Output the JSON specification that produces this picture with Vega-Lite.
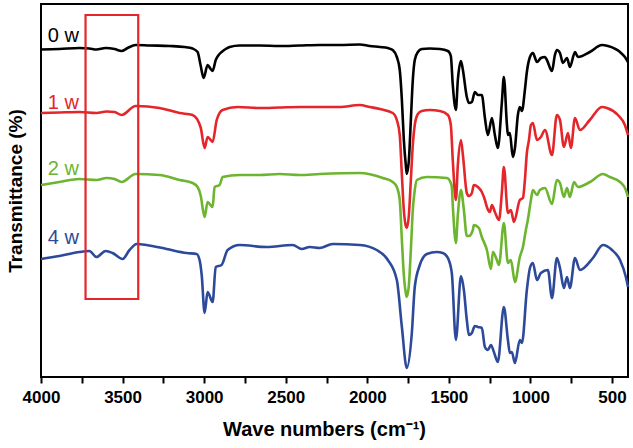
{
  "$schema": "https://vega.github.io/schema/vega-lite/v6.json",
  "width": 587,
  "height": 373,
  "autosize": "none",
  "padding": {"left": 41, "top": 4, "right": 5, "bottom": 71},
  "config": {
    "view": {"stroke": "#000000", "strokeWidth": 2},
    "font": "Liberation Sans"
  },
  "datasets": {
    "spectra": [
      {"s":"0 w","w":4000,"t":327.5},{"s":"0 w","w":3887,"t":328},{"s":"0 w","w":3764,"t":329},{"s":"0 w","w":3703,"t":328.5},{"s":"0 w","w":3660,"t":327.5},{"s":"0 w","w":3604,"t":329},{"s":"0 w","w":3549,"t":328},{"s":"0 w","w":3506,"t":326},{"s":"0 w","w":3469,"t":329},{"s":"0 w","w":3420,"t":332},{"s":"0 w","w":3334,"t":331.5},{"s":"0 w","w":3212,"t":331},{"s":"0 w","w":3120,"t":330},{"s":"0 w","w":3071,"t":328.5},{"s":"0 w","w":3040,"t":325},{"s":"0 w","w":3022,"t":312},{"s":"0 w","w":3003,"t":299},{"s":"0 w","w":2979,"t":312},{"s":"0 w","w":2960,"t":308},{"s":"0 w","w":2948,"t":306},{"s":"0 w","w":2929,"t":317},{"s":"0 w","w":2911,"t":322},{"s":"0 w","w":2893,"t":325},{"s":"0 w","w":2868,"t":328},{"s":"0 w","w":2844,"t":330},{"s":"0 w","w":2782,"t":331.5},{"s":"0 w","w":2660,"t":331.5},{"s":"0 w","w":2537,"t":331},{"s":"0 w","w":2414,"t":331.5},{"s":"0 w","w":2291,"t":332},{"s":"0 w","w":2169,"t":332},{"s":"0 w","w":2046,"t":332.5},{"s":"0 w","w":1985,"t":331},{"s":"0 w","w":1923,"t":330},{"s":"0 w","w":1874,"t":329},{"s":"0 w","w":1844,"t":327},{"s":"0 w","w":1819,"t":320},{"s":"0 w","w":1801,"t":307},{"s":"0 w","w":1788,"t":277},{"s":"0 w","w":1776,"t":237},{"s":"0 w","w":1764,"t":212},{"s":"0 w","w":1758,"t":203},{"s":"0 w","w":1745,"t":217},{"s":"0 w","w":1733,"t":257},{"s":"0 w","w":1721,"t":297},{"s":"0 w","w":1709,"t":317},{"s":"0 w","w":1690,"t":325},{"s":"0 w","w":1666,"t":328},{"s":"0 w","w":1617,"t":328.5},{"s":"0 w","w":1555,"t":328},{"s":"0 w","w":1506,"t":326},{"s":"0 w","w":1488,"t":321},{"s":"0 w","w":1476,"t":292},{"s":"0 w","w":1457,"t":267},{"s":"0 w","w":1445,"t":297},{"s":"0 w","w":1426,"t":316},{"s":"0 w","w":1414,"t":307},{"s":"0 w","w":1390,"t":280},{"s":"0 w","w":1377,"t":274},{"s":"0 w","w":1359,"t":275},{"s":"0 w","w":1341,"t":285},{"s":"0 w","w":1322,"t":282},{"s":"0 w","w":1298,"t":282},{"s":"0 w","w":1279,"t":259},{"s":"0 w","w":1261,"t":242},{"s":"0 w","w":1236,"t":259},{"s":"0 w","w":1218,"t":242},{"s":"0 w","w":1200,"t":229},{"s":"0 w","w":1175,"t":275},{"s":"0 w","w":1163,"t":300},{"s":"0 w","w":1144,"t":252},{"s":"0 w","w":1138,"t":242},{"s":"0 w","w":1126,"t":244},{"s":"0 w","w":1108,"t":220},{"s":"0 w","w":1095,"t":229},{"s":"0 w","w":1077,"t":262},{"s":"0 w","w":1065,"t":270},{"s":"0 w","w":1052,"t":266},{"s":"0 w","w":1034,"t":287},{"s":"0 w","w":1022,"t":305},{"s":"0 w","w":1003,"t":320},{"s":"0 w","w":985,"t":324},{"s":"0 w","w":960,"t":315},{"s":"0 w","w":936,"t":319},{"s":"0 w","w":911,"t":320},{"s":"0 w","w":899,"t":317},{"s":"0 w","w":868,"t":306},{"s":"0 w","w":850,"t":322},{"s":"0 w","w":838,"t":327},{"s":"0 w","w":819,"t":324},{"s":"0 w","w":801,"t":314},{"s":"0 w","w":776,"t":319},{"s":"0 w","w":758,"t":310},{"s":"0 w","w":727,"t":325},{"s":"0 w","w":709,"t":320},{"s":"0 w","w":636,"t":325},{"s":"0 w","w":562,"t":332},{"s":"0 w","w":525,"t":331},{"s":"0 w","w":451,"t":325},{"s":"0 w","w":421,"t":320},{"s":"0 w","w":402,"t":315},

      {"s":"1 w","w":4000,"t":264},{"s":"1 w","w":3887,"t":264.5},{"s":"1 w","w":3764,"t":265},{"s":"1 w","w":3660,"t":264},{"s":"1 w","w":3598,"t":265.5},{"s":"1 w","w":3549,"t":265},{"s":"1 w","w":3506,"t":262},{"s":"1 w","w":3420,"t":271},{"s":"1 w","w":3273,"t":269},{"s":"1 w","w":3150,"t":264},{"s":"1 w","w":3071,"t":262},{"s":"1 w","w":3022,"t":250},{"s":"1 w","w":2997,"t":229},{"s":"1 w","w":2979,"t":240},{"s":"1 w","w":2960,"t":237},{"s":"1 w","w":2948,"t":235},{"s":"1 w","w":2923,"t":257},{"s":"1 w","w":2887,"t":267},{"s":"1 w","w":2795,"t":270},{"s":"1 w","w":2660,"t":269},{"s":"1 w","w":2537,"t":269.5},{"s":"1 w","w":2414,"t":270},{"s":"1 w","w":2291,"t":270},{"s":"1 w","w":2169,"t":270},{"s":"1 w","w":2046,"t":272},{"s":"1 w","w":1985,"t":270},{"s":"1 w","w":1923,"t":268},{"s":"1 w","w":1844,"t":264},{"s":"1 w","w":1819,"t":257},{"s":"1 w","w":1801,"t":242},{"s":"1 w","w":1788,"t":202},{"s":"1 w","w":1776,"t":167},{"s":"1 w","w":1764,"t":151},{"s":"1 w","w":1758,"t":149},{"s":"1 w","w":1745,"t":162},{"s":"1 w","w":1733,"t":197},{"s":"1 w","w":1721,"t":232},{"s":"1 w","w":1709,"t":252},{"s":"1 w","w":1690,"t":263},{"s":"1 w","w":1666,"t":266},{"s":"1 w","w":1617,"t":267},{"s":"1 w","w":1555,"t":266},{"s":"1 w","w":1506,"t":262},{"s":"1 w","w":1488,"t":252},{"s":"1 w","w":1476,"t":217},{"s":"1 w","w":1457,"t":177},{"s":"1 w","w":1445,"t":212},{"s":"1 w","w":1426,"t":237},{"s":"1 w","w":1414,"t":222},{"s":"1 w","w":1390,"t":184},{"s":"1 w","w":1377,"t":181},{"s":"1 w","w":1359,"t":184},{"s":"1 w","w":1347,"t":192},{"s":"1 w","w":1322,"t":190},{"s":"1 w","w":1298,"t":185},{"s":"1 w","w":1279,"t":177},{"s":"1 w","w":1267,"t":170},{"s":"1 w","w":1249,"t":165},{"s":"1 w","w":1236,"t":172},{"s":"1 w","w":1218,"t":165},{"s":"1 w","w":1193,"t":157},{"s":"1 w","w":1175,"t":185},{"s":"1 w","w":1163,"t":210},{"s":"1 w","w":1138,"t":164},{"s":"1 w","w":1120,"t":167},{"s":"1 w","w":1101,"t":155},{"s":"1 w","w":1065,"t":177},{"s":"1 w","w":1046,"t":179},{"s":"1 w","w":1034,"t":197},{"s":"1 w","w":1022,"t":224},{"s":"1 w","w":1009,"t":237},{"s":"1 w","w":997,"t":252},{"s":"1 w","w":985,"t":254},{"s":"1 w","w":960,"t":237},{"s":"1 w","w":936,"t":240},{"s":"1 w","w":911,"t":247},{"s":"1 w","w":868,"t":222},{"s":"1 w","w":838,"t":262},{"s":"1 w","w":819,"t":257},{"s":"1 w","w":795,"t":230},{"s":"1 w","w":770,"t":244},{"s":"1 w","w":752,"t":229},{"s":"1 w","w":727,"t":259},{"s":"1 w","w":697,"t":247},{"s":"1 w","w":636,"t":257},{"s":"1 w","w":562,"t":270},{"s":"1 w","w":531,"t":269},{"s":"1 w","w":464,"t":262},{"s":"1 w","w":421,"t":252},{"s":"1 w","w":402,"t":242},

      {"s":"2 w","w":4000,"t":192},{"s":"2 w","w":3887,"t":195},{"s":"2 w","w":3764,"t":198},{"s":"2 w","w":3660,"t":197},{"s":"2 w","w":3598,"t":199},{"s":"2 w","w":3549,"t":198},{"s":"2 w","w":3506,"t":195},{"s":"2 w","w":3420,"t":203},{"s":"2 w","w":3273,"t":202},{"s":"2 w","w":3150,"t":197},{"s":"2 w","w":3071,"t":194},{"s":"2 w","w":3040,"t":190},{"s":"2 w","w":3022,"t":182},{"s":"2 w","w":2997,"t":160},{"s":"2 w","w":2979,"t":175},{"s":"2 w","w":2948,"t":170},{"s":"2 w","w":2936,"t":190},{"s":"2 w","w":2905,"t":192},{"s":"2 w","w":2887,"t":200},{"s":"2 w","w":2782,"t":202},{"s":"2 w","w":2660,"t":202},{"s":"2 w","w":2537,"t":203},{"s":"2 w","w":2414,"t":202},{"s":"2 w","w":2291,"t":203},{"s":"2 w","w":2046,"t":204},{"s":"2 w","w":1905,"t":199},{"s":"2 w","w":1844,"t":195},{"s":"2 w","w":1819,"t":190},{"s":"2 w","w":1801,"t":177},{"s":"2 w","w":1788,"t":137},{"s":"2 w","w":1776,"t":102},{"s":"2 w","w":1764,"t":84},{"s":"2 w","w":1758,"t":80},{"s":"2 w","w":1745,"t":92},{"s":"2 w","w":1733,"t":127},{"s":"2 w","w":1721,"t":167},{"s":"2 w","w":1709,"t":187},{"s":"2 w","w":1696,"t":197},{"s":"2 w","w":1635,"t":200},{"s":"2 w","w":1512,"t":199},{"s":"2 w","w":1488,"t":194},{"s":"2 w","w":1482,"t":190},{"s":"2 w","w":1476,"t":172},{"s":"2 w","w":1457,"t":134},{"s":"2 w","w":1445,"t":162},{"s":"2 w","w":1426,"t":187},{"s":"2 w","w":1408,"t":167},{"s":"2 w","w":1390,"t":141},{"s":"2 w","w":1377,"t":141},{"s":"2 w","w":1353,"t":147},{"s":"2 w","w":1347,"t":152},{"s":"2 w","w":1316,"t":149},{"s":"2 w","w":1298,"t":140},{"s":"2 w","w":1267,"t":127},{"s":"2 w","w":1242,"t":108},{"s":"2 w","w":1230,"t":125},{"s":"2 w","w":1206,"t":117},{"s":"2 w","w":1193,"t":112},{"s":"2 w","w":1163,"t":154},{"s":"2 w","w":1138,"t":114},{"s":"2 w","w":1120,"t":117},{"s":"2 w","w":1095,"t":95},{"s":"2 w","w":1065,"t":120},{"s":"2 w","w":1046,"t":130},{"s":"2 w","w":1028,"t":147},{"s":"2 w","w":1016,"t":157},{"s":"2 w","w":997,"t":177},{"s":"2 w","w":985,"t":187},{"s":"2 w","w":960,"t":182},{"s":"2 w","w":942,"t":187},{"s":"2 w","w":911,"t":189},{"s":"2 w","w":868,"t":173},{"s":"2 w","w":838,"t":197},{"s":"2 w","w":819,"t":194},{"s":"2 w","w":795,"t":180},{"s":"2 w","w":776,"t":189},{"s":"2 w","w":758,"t":180},{"s":"2 w","w":733,"t":195},{"s":"2 w","w":709,"t":190},{"s":"2 w","w":635,"t":195},{"s":"2 w","w":556,"t":203},{"s":"2 w","w":513,"t":200},{"s":"2 w","w":451,"t":195},{"s":"2 w","w":415,"t":187},{"s":"2 w","w":402,"t":180},

      {"s":"4 w","w":4000,"t":118},{"s":"4 w","w":3887,"t":121},{"s":"4 w","w":3764,"t":125},{"s":"4 w","w":3703,"t":126},{"s":"4 w","w":3660,"t":120},{"s":"4 w","w":3604,"t":126},{"s":"4 w","w":3561,"t":124},{"s":"4 w","w":3500,"t":118},{"s":"4 w","w":3457,"t":127},{"s":"4 w","w":3414,"t":133},{"s":"4 w","w":3353,"t":132},{"s":"4 w","w":3230,"t":128},{"s":"4 w","w":3107,"t":124},{"s":"4 w","w":3046,"t":123},{"s":"4 w","w":3028,"t":117},{"s":"4 w","w":3015,"t":102},{"s":"4 w","w":2997,"t":64},{"s":"4 w","w":2979,"t":85},{"s":"4 w","w":2948,"t":75},{"s":"4 w","w":2929,"t":110},{"s":"4 w","w":2893,"t":112},{"s":"4 w","w":2856,"t":127},{"s":"4 w","w":2782,"t":132},{"s":"4 w","w":2617,"t":130},{"s":"4 w","w":2457,"t":132},{"s":"4 w","w":2402,"t":128},{"s":"4 w","w":2353,"t":130},{"s":"4 w","w":2292,"t":129},{"s":"4 w","w":2212,"t":133},{"s":"4 w","w":2046,"t":132},{"s":"4 w","w":1942,"t":127},{"s":"4 w","w":1874,"t":117},{"s":"4 w","w":1819,"t":97},{"s":"4 w","w":1788,"t":50},{"s":"4 w","w":1758,"t":9},{"s":"4 w","w":1727,"t":44},{"s":"4 w","w":1709,"t":90},{"s":"4 w","w":1678,"t":112},{"s":"4 w","w":1635,"t":123},{"s":"4 w","w":1574,"t":125},{"s":"4 w","w":1537,"t":124},{"s":"4 w","w":1506,"t":119},{"s":"4 w","w":1482,"t":104},{"s":"4 w","w":1457,"t":37},{"s":"4 w","w":1426,"t":101},{"s":"4 w","w":1408,"t":87},{"s":"4 w","w":1390,"t":57},{"s":"4 w","w":1377,"t":42},{"s":"4 w","w":1359,"t":44},{"s":"4 w","w":1341,"t":51},{"s":"4 w","w":1322,"t":50},{"s":"4 w","w":1298,"t":49},{"s":"4 w","w":1279,"t":30},{"s":"4 w","w":1261,"t":27},{"s":"4 w","w":1242,"t":32},{"s":"4 w","w":1224,"t":25},{"s":"4 w","w":1200,"t":15},{"s":"4 w","w":1163,"t":70},{"s":"4 w","w":1138,"t":37},{"s":"4 w","w":1126,"t":24},{"s":"4 w","w":1114,"t":25},{"s":"4 w","w":1095,"t":14},{"s":"4 w","w":1065,"t":37},{"s":"4 w","w":1052,"t":34},{"s":"4 w","w":1022,"t":87},{"s":"4 w","w":1003,"t":109},{"s":"4 w","w":985,"t":114},{"s":"4 w","w":960,"t":97},{"s":"4 w","w":936,"t":104},{"s":"4 w","w":893,"t":107},{"s":"4 w","w":868,"t":79},{"s":"4 w","w":838,"t":119},{"s":"4 w","w":819,"t":109},{"s":"4 w","w":795,"t":89},{"s":"4 w","w":776,"t":100},{"s":"4 w","w":758,"t":89},{"s":"4 w","w":727,"t":119},{"s":"4 w","w":697,"t":107},{"s":"4 w","w":617,"t":119},{"s":"4 w","w":556,"t":132},{"s":"4 w","w":500,"t":127},{"s":"4 w","w":451,"t":117},{"s":"4 w","w":415,"t":100},{"s":"4 w","w":402,"t":90}
    ],
    "labels": [
      {"s":"0 w","w":3958,"t":341},
      {"s":"1 w","w":3958,"t":274},
      {"s":"2 w","w":3958,"t":208},
      {"s":"4 w","w":3958,"t":139}
    ],
    "box": [
      {"w1":3727,"w2":3404,"t1":362,"t2":78}
    ]
  },
  "layer": [
    {
      "data": {"name": "spectra"},
      "mark": {"type": "line", "strokeWidth": 2.6, "interpolate": "monotone"},
      "encoding": {
        "x": {
          "field": "w", "type": "quantitative",
          "scale": {"domain": [402, 4000], "reverse": true, "nice": false, "zero": false},
          "axis": {
            "values": [4000,3750,3500,3250,3000,2750,2500,2250,2000,1750,1500,1250,1000,750,500],
            "format": "d",
            "labelExpr": "datum.value % 500 === 0 ? datum.label : ''",
            "title": "Wave numbers (cm⁻¹)",
            "titleFont": "Liberation Sans",
            "titleFontSize": 20,
            "titleFontWeight": "bold",
            "titleColor": "#000000",
            "titlePadding": 14,
            "titleX": 283,
            "titleAlign": "center",
            "labelFont": "Liberation Sans",
            "labelFontSize": 17,
            "labelFontWeight": "bold",
            "labelColor": "#000000",
            "labelPadding": 6,
            "labelFlush": false,
            "labelOverlap": false,
            "tickSize": 6,
            "tickWidth": 2,
            "tickColor": "#000000",
            "domain": false,
            "grid": false
          }
        },
        "y": {
          "field": "t", "type": "quantitative",
          "scale": {"domain": [0, 373], "nice": false, "zero": false},
          "axis": {
            "title": "Transmittance (%)",
            "titleFont": "Liberation Sans",
            "titleFontSize": 19,
            "titleFontWeight": "bold",
            "titleColor": "#000000",
            "titlePadding": 16,
            "labels": false,
            "ticks": false,
            "domain": false,
            "grid": false
          }
        },
        "color": {
          "field": "s", "type": "nominal",
          "scale": {"domain": ["0 w","1 w","2 w","4 w"], "range": ["#000000","#e4262b","#6db52e","#2d4999"]},
          "legend": null
        }
      }
    },
    {
      "data": {"name": "labels"},
      "mark": {"type": "text", "align": "left", "baseline": "middle", "fontSize": 20, "font": "Liberation Sans"},
      "encoding": {
        "x": {"field": "w", "type": "quantitative"},
        "y": {"field": "t", "type": "quantitative"},
        "text": {"field": "s", "type": "nominal"},
        "color": {"field": "s", "type": "nominal", "legend": null}
      }
    },
    {
      "data": {"name": "box"},
      "mark": {"type": "rect", "fill": null, "fillOpacity": 0, "stroke": "#e4262b", "strokeWidth": 2.2},
      "encoding": {
        "x": {"field": "w1", "type": "quantitative"},
        "x2": {"field": "w2"},
        "y": {"field": "t1", "type": "quantitative"},
        "y2": {"field": "t2"}
      }
    }
  ]
}
